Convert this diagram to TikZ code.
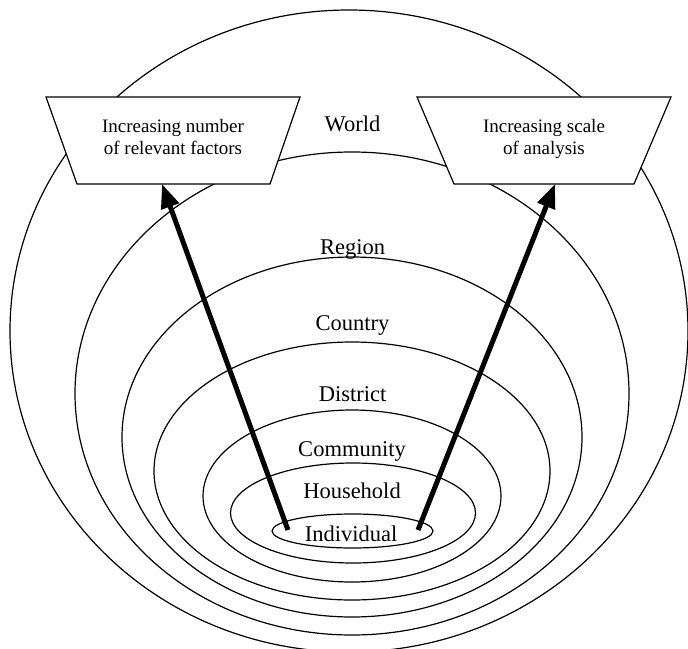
\documentclass[tikz,border=0pt]{standalone}
\usepackage{fontspec}
\setmainfont{Liberation Serif}
\usetikzlibrary{shapes.geometric,arrows.meta,calc}
\begin{document}
\begin{tikzpicture}[x=1pt,y=-1pt,
  ring/.style={draw, ellipse, line width=1.2pt, inner sep=0pt, outer sep=0pt},
  lab/.style={anchor=base, inner sep=0pt, font=\fontsize{22.5}{27}\selectfont},
  tshape/.style={draw, fill=white, line width=1.2pt, line join=miter},
  btxt/.style={align=center, inner sep=0pt, font=\fontsize{19}{21.5}\selectfont},
  bigarrow/.style={line width=5pt, -{Triangle[length=24pt,width=18pt]}}
]
\useasboundingbox (0,0) rectangle (688,648);
% rings
\node[ring, minimum width=678pt, minimum height=642pt] (eworld) at (349,331) {};
\node[ring, minimum width=554pt, minimum height=483pt] (eregion) at (352,393.5) {};
\node[ring, minimum width=460pt, minimum height=360pt] (ecountry) at (352,437) {};
\node[ring, minimum width=396pt, minimum height=258pt] (edistrict) at (352,471) {};
\node[ring, minimum width=298pt, minimum height=172pt] (ecommunity) at (352,496) {};
\node[ring, minimum width=245pt, minimum height=100pt] (ehousehold) at (353,513) {};
\node[ring, minimum width=161pt, minimum height=34pt] (eindiv) at (352.5,531) {};
% labels
\node[lab] (lworld) at (352.5,131) {World};
\node[lab] (lregion) at (352.5,254) {Region};
\node[lab] (lcountry) at (352.5,330) {Country};
\node[lab] (ldistrict) at (352.5,401) {District};
\node[lab] (lcommunity) at (352,456) {Community};
\node[lab] (lhousehold) at (352,498) {Household};
\node[lab] (lindiv) at (351,541) {Individual};
% boxes
\coordinate (lc) at (173,140.5);
\coordinate (rc) at (544,140.5);
\draw[tshape] ($(lc)+(-127,-43.5)$) -- ($(lc)+(127,-43.5)$) -- ($(lc)+(97,43.5)$) -- ($(lc)+(-96,43.5)$) -- cycle;
\draw[tshape] ($(rc)+(-127,-43.5)$) -- ($(rc)+(127,-43.5)$) -- ($(rc)+(90,43.5)$) -- ($(rc)+(-90,43.5)$) -- cycle;
\node[btxt, yshift=3.5pt] (lbox) at (lc) {Increasing number\\of relevant factors};
\node[btxt, yshift=1.5pt] (rbox) at (rc) {Increasing scale\\of analysis};
% arrow end points
\coordinate (sL) at ($(eindiv.center)+(-64.5,-1)$);
\coordinate (sR) at ($(eindiv.center)+(65.5,-1)$);
\coordinate (tL) at ($(lc)+(-11,43.5)$);
\coordinate (tR) at ($(rc)+(11,43.5)$);
\draw[bigarrow] (sL) -- (tL);
\draw[bigarrow] (sR) -- (tR);
\end{tikzpicture}
\end{document}
